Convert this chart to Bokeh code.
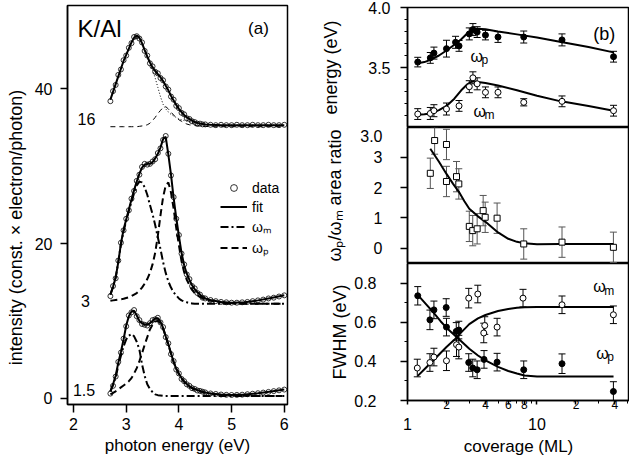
import math
from bokeh.plotting import figure
from bokeh.models import (Range1d, FixedTicker, LogAxis, Label, Legend, LegendItem,
                          Whisker, ColumnDataSource, NumeralTickFormatter)
from bokeh.layouts import row, column
from bokeh.embed import file_html
from bokeh.resources import INLINE

FONT = "Liberation Sans"

# ---------------- panel (a): spectra ----------------
e_curve = [2.70, 2.75, 2.80, 2.85, 2.90, 2.95, 3.00, 3.05, 3.10, 3.15, 3.20, 3.25, 3.30, 3.35,
           3.40, 3.45, 3.50, 3.55, 3.60, 3.65, 3.70, 3.75, 3.80, 3.85, 3.90, 3.95, 4.00, 4.05,
           4.10, 4.15, 4.20, 4.25, 4.30, 4.35, 4.40, 4.45, 4.50, 4.60, 4.80, 5.00, 5.25, 5.50,
           5.75, 6.00]
e_data = [2.70, 2.75, 2.80, 2.85, 2.90, 2.95, 3.00, 3.05, 3.10, 3.15, 3.20, 3.25, 3.30, 3.35,
          3.40, 3.45, 3.50, 3.55, 3.60, 3.65, 3.70, 3.75, 3.80, 3.85, 3.90, 3.95, 4.00, 4.05,
          4.10, 4.15, 4.20, 4.25, 4.30, 4.35, 4.40, 4.45, 4.50, 4.6, 4.7, 4.8, 4.9, 5.0, 5.1,
          5.2, 5.3, 5.4, 5.5, 5.6, 5.7, 5.8, 5.9, 6.0]

# 16 ML
data16 = [38.4, 39.7, 40.5, 41.8, 42.5, 43.7, 44.3, 45.3, 45.9, 46.7, 46.8, 46.5, 46.0, 44.9,
          44.3, 43.3, 42.9, 42.2, 42.0, 41.4, 41.1, 40.3, 39.9, 39.0, 38.6, 37.8, 37.5, 36.9,
          36.7, 36.2, 36.1, 35.8, 35.7, 35.5, 35.5, 35.4, 35.4, 35.35, 35.3, 35.35, 35.3, 35.3,
          35.35, 35.3, 35.3, 35.35, 35.3, 35.3, 35.35, 35.3, 35.3, 35.35]
fit16 = [38.6, 39.6, 40.6, 41.6, 42.6, 43.6, 44.4, 45.2, 46.0, 46.6, 46.9, 46.6, 45.9, 45.0,
         44.2, 43.4, 42.8, 42.3, 41.9, 41.5, 41.0, 40.4, 39.8, 39.1, 38.5, 37.9, 37.4, 37.0,
         36.6, 36.3, 36.1, 35.9, 35.7, 35.6, 35.5, 35.45, 35.4, 35.35, 35.3, 35.3, 35.3, 35.3,
         35.3, 35.3]
om16 = [38.6, 39.6, 40.6, 41.6, 42.6, 43.6, 44.4, 45.2, 46.0, 46.6, 46.9, 46.6, 45.9, 45.0,
        44.0, 43.3, 42.5, 41.4, 40.2, 39.0, 38.0, 37.4, 37.0, 36.7, 36.5, 36.3, 36.1, 36.0,
        35.9, 35.8, 35.7, 35.65, 35.6, 35.55, 35.5, 35.45, 35.4, 35.35, 35.3, 35.3, 35.3, 35.3,
        35.3, 35.3]
op16 = [35.1, 35.1, 35.1, 35.1, 35.1, 35.1, 35.1, 35.1, 35.1, 35.1, 35.1, 35.15, 35.2, 35.25,
        35.35, 35.55, 35.9, 36.3, 36.8, 37.2, 37.6, 37.7, 37.4, 37.0, 36.6, 36.3, 36.0, 35.8,
        35.6, 35.45, 35.35, 35.3, 35.25, 35.2, 35.2, 35.15, 35.15, 35.1, 35.1, 35.1, 35.1, 35.1,
        35.1, 35.1]

# 3 ML
data3 = [13.2, 14.5, 15.5, 17.8, 20.1, 21.7, 23.2, 24.3, 25.8, 26.8, 28.1, 28.9, 29.9, 30.3,
         30.2, 30.3, 30.6, 30.9, 31.7, 32.3, 33.4, 33.9, 31.6, 28.8, 26.0, 23.2, 21.1, 18.7,
         17.3, 16.0, 15.4, 14.5, 14.2, 13.6, 13.4, 13.0, 12.9, 12.7, 12.55, 12.45, 12.4, 12.35,
         12.35, 12.4, 12.45, 12.55, 12.65, 12.75, 12.9, 13.0, 13.15, 13.3]
fit3 = [13.4, 14.4, 15.6, 17.6, 20.0, 21.8, 23.1, 24.4, 25.7, 26.9, 28.0, 29.0, 29.8, 30.2,
        30.3, 30.3, 30.5, 31.0, 31.6, 32.4, 33.5, 33.8, 31.5, 28.9, 25.9, 23.3, 21.0, 18.8,
        17.2, 16.1, 15.3, 14.6, 14.1, 13.7, 13.4, 13.1, 12.9, 12.7, 12.45, 12.35, 12.4, 12.65,
        12.95, 13.3]
om3 = [13.4, 14.4, 15.6, 17.6, 19.9, 21.6, 22.9, 24.2, 25.4, 26.5, 27.5, 28.0, 27.9, 27.3,
       26.3, 25.0, 23.8, 22.4, 20.8, 19.3, 17.6, 16.2, 15.1, 14.3, 13.7, 13.3, 12.9, 12.65,
       12.5, 12.4, 12.3, 12.25, 12.2, 12.2, 12.2, 12.2, 12.2, 12.2, 12.2, 12.2, 12.2, 12.2,
       12.2, 12.2]
op3 = [12.6, 12.65, 12.7, 12.75, 12.8, 12.85, 12.95, 13.05, 13.2, 13.4, 13.6, 13.9, 14.3, 14.8,
       15.4, 16.2, 17.3, 18.8, 21.0, 23.6, 26.0, 27.5, 27.9, 26.6, 24.5, 22.0, 19.8, 17.7,
       16.3, 15.3, 14.6, 14.0, 13.6, 13.3, 13.1, 12.9, 12.75, 12.6, 12.4, 12.3, 12.25, 12.2,
       12.2, 12.2]

# 1.5 ML
data15 = [0.6, 1.6, 2.8, 4.7, 5.9, 7.7, 9.3, 10.7, 11.1, 11.4, 10.6, 10.1, 9.6, 9.5,
          9.4, 9.7, 10.1, 10.2, 10.4, 9.8, 9.2, 7.9, 7.1, 5.7, 4.8, 3.7, 3.2, 2.5,
          2.2, 1.8, 1.6, 1.3, 1.2, 1.0, 0.95, 0.85, 0.75, 0.62, 0.55, 0.48, 0.44, 0.42,
          0.43, 0.46, 0.52, 0.58, 0.65, 0.73, 0.82, 0.92, 1.02, 1.12]
fit15 = [0.9, 1.8, 2.9, 4.6, 6.0, 7.6, 9.4, 10.6, 11.2, 11.3, 10.7, 10.0, 9.7, 9.5,
         9.5, 9.7, 10.0, 10.3, 10.35, 9.9, 9.1, 8.0, 7.0, 5.8, 4.7, 3.8, 3.2, 2.6,
         2.2, 1.85, 1.55, 1.35, 1.2, 1.05, 0.95, 0.85, 0.75, 0.62, 0.48, 0.42, 0.48, 0.65,
         0.88, 1.12]
om15 = [0.9, 1.7, 2.7, 4.2, 5.5, 6.7, 7.6, 8.1, 8.3, 8.0, 7.3, 6.3, 4.4, 2.9,
        1.8, 1.2, 0.8, 0.5, 0.4, 0.35, 0.3, 0.3, 0.3, 0.3, 0.3, 0.3, 0.3, 0.3,
        0.3, 0.3, 0.3, 0.3, 0.3, 0.3, 0.3, 0.3, 0.3, 0.3, 0.3, 0.3, 0.3, 0.3,
        0.3, 0.3]
op15 = [0.5, 0.7, 0.9, 1.15, 1.4, 1.65, 1.9, 2.2, 2.6, 3.2, 3.9, 4.8, 5.8, 6.9,
        7.9, 8.9, 9.5, 9.9, 10.0, 9.7, 9.0, 8.0, 6.9, 5.8, 4.7, 3.8, 3.1, 2.55,
        2.1, 1.8, 1.5, 1.3, 1.1, 1.0, 0.9, 0.8, 0.72, 0.6, 0.45, 0.38, 0.33, 0.3,
        0.3, 0.3]

x_ticks_a = [2, 3, 4, 5, 6]
y_ticks_a = [0, 20, 40]

# ---------------- panel (b) ----------------
cov_ep = [1.2, 1.5, 1.6, 2.0, 2.35, 2.5, 3.0, 3.2, 3.45, 4.0, 5.0, 7.9, 15.6, 39]
en_p = [3.545, 3.58, 3.62, 3.657, 3.71, 3.68, 3.78, 3.816, 3.795, 3.77, 3.754, 3.754, 3.73, 3.59]
en_p_err = [0.04, 0.045, 0.05, 0.07, 0.05, 0.045, 0.05, 0.05, 0.045, 0.04, 0.045, 0.05, 0.05, 0.045]
cov_em = [1.2, 1.5, 1.6, 2.0, 2.5, 3.0, 3.2, 3.45, 4.0, 5.0, 7.9, 15.6, 39]
en_m = [3.112, 3.117, 3.14, 3.154, 3.18, 3.34, 3.414, 3.364, 3.293, 3.293, 3.21, 3.218, 3.14]
en_m_err = [0.045, 0.05, 0.05, 0.05, 0.045, 0.05, 0.05, 0.05, 0.045, 0.045, 0.03, 0.045, 0.045]
cov_efit = [1.2, 1.35, 1.5, 1.75, 2.0, 2.3, 2.6, 2.9, 3.2, 3.5, 4.0, 5.0, 7.0, 10, 15, 25, 39]
en_p_fit = [3.536, 3.545, 3.564, 3.60, 3.642, 3.69, 3.735, 3.785, 3.815, 3.822, 3.818, 3.80,
            3.776, 3.75, 3.715, 3.67, 3.626]
en_m_fit = [3.106, 3.110, 3.117, 3.145, 3.18, 3.24, 3.31, 3.36, 3.388, 3.38, 3.37, 3.35,
            3.31, 3.265, 3.22, 3.18, 3.14]

cov_r = [1.5, 1.62, 2.0, 2.0, 2.39, 2.49, 3.0, 3.19, 3.45, 3.84, 3.98, 4.92, 7.9, 15.6, 38.9]
ratio = [2.47, 3.55, 3.42, 2.2, 2.36, 2.12, 0.72, 0.58, 0.64, 1.24, 1.02, 0.99, 0.14, 0.2, 0.03]
ratio_err = [0.5, 0.45, 0.5, 0.5, 0.5, 0.5, 0.5, 0.5, 0.5, 0.5, 0.5, 0.5, 0.5, 0.5, 0.5]
cov_rfit = [1.5, 1.75, 2.0, 2.25, 2.5, 2.75, 3.0, 3.5, 4.0, 5.0, 6.0, 7.0, 8.0, 10, 15, 25, 39]
ratio_fit = [3.28, 2.85, 2.45, 2.12, 1.85, 1.55, 1.3, 1.05, 0.87, 0.52, 0.31, 0.21, 0.16,
             0.13, 0.14, 0.14, 0.14]

cov_fp = [1.2, 1.49, 1.6, 1.99, 2.0, 2.38, 2.49, 2.97, 3.19, 3.45, 3.9, 4.92, 7.9, 15.6, 38.9]
fw_p = [0.735, 0.612, 0.663, 0.675, 0.575, 0.553, 0.56, 0.394, 0.366, 0.357, 0.41, 0.396,
        0.357, 0.388, 0.246]
fw_p_err = [0.047, 0.05, 0.045, 0.045, 0.045, 0.045, 0.045, 0.045, 0.045, 0.045, 0.045, 0.045,
            0.045, 0.05, 0.05]
cov_fm = [1.19, 1.49, 1.6, 2.0, 2.39, 2.49, 2.97, 3.49, 3.88, 3.95, 4.92, 7.8, 15.6, 38.9]
fw_m = [0.366, 0.394, 0.422, 0.403, 0.485, 0.473, 0.723, 0.744, 0.545, 0.583, 0.575, 0.723,
        0.689, 0.638]
fw_m_err = [0.045, 0.045, 0.045, 0.05, 0.06, 0.06, 0.05, 0.045, 0.05, 0.045, 0.045, 0.045,
            0.045, 0.045]
cov_ffit = [1.2, 1.4, 1.6, 1.8, 2.0, 2.3, 2.6, 3.0, 3.5, 4.0, 5.0, 6.0, 7.0, 8.0, 10, 15, 25, 39]
fw_p_fit = [0.74, 0.69, 0.647, 0.605, 0.572, 0.535, 0.503, 0.464, 0.43, 0.405, 0.372, 0.351,
            0.338, 0.328, 0.323, 0.322, 0.322, 0.322]
fw_m_fit = [0.326, 0.37, 0.408, 0.443, 0.473, 0.51, 0.548, 0.59, 0.62, 0.637, 0.657, 0.668,
            0.674, 0.677, 0.678, 0.678, 0.678, 0.678]

cov_ticks_small = [1, 2, 4, 6, 8, 10, 20, 40]
cov_minor = [3, 5, 7, 9, 30, 50]
cov_ticks_big = [1, 10]
ratio_ticks = [0, 1, 2, 3]


def base_style(p):
    p.grid.visible = False
    p.outline_line_color = "black"
    p.outline_line_width = 1.5
    p.background_fill_color = "white"
    p.border_fill_color = "white"


def style_axis(ax, size="16px"):
    ax.major_label_text_font = FONT
    ax.major_label_text_font_size = size
    ax.major_label_text_color = "black"
    ax.axis_label_text_font = FONT
    ax.axis_label_text_font_size = "18px"
    ax.axis_label_text_font_style = "normal"
    ax.axis_label_text_color = "black"
    ax.axis_line_color = "black"
    ax.axis_line_width = 1.5
    ax.major_tick_line_color = "black"
    ax.major_tick_line_width = 1.5
    ax.minor_tick_line_color = "black"
    ax.minor_tick_line_width = 1
    ax.major_tick_in = 0
    ax.minor_tick_in = 0


def label(p, x, y, text, size, align="left", baseline="middle", angle=0.0, xo=0, yo=0):
    p.add_layout(Label(x=x, y=y, text=text, text_font=FONT,
                       text_font_size=size, text_align=align, text_baseline=baseline,
                       angle=angle, x_offset=xo, y_offset=yo, text_color="black"))


def omega(p, x, y, sub, size="16px", subsize="12px", dx=11, dy=-4):
    label(p, x, y, "ω", size, baseline="alphabetic")
    label(p, x, y, sub, subsize, baseline="alphabetic", xo=dx, yo=dy)


def whisk(p, xs, ys, errs, color="black"):
    src = ColumnDataSource(dict(x=xs, lo=[v - e for v, e in zip(ys, errs)],
                                hi=[v + e for v, e in zip(ys, errs)]))
    w = Whisker(source=src, base="x", lower="lo", upper="hi", line_color=color, line_width=1)
    w.upper_head.size = 7
    w.lower_head.size = 7
    w.upper_head.line_color = color
    w.lower_head.line_color = color
    p.add_layout(w)


H = 460

# ---------------- figure (a) ----------------
pa = figure(width=307, height=H, x_range=Range1d(1.886, 6.061), y_range=Range1d(-0.81, 50.77),
            output_backend="svg", toolbar_location=None,
            min_border_left=67, min_border_right=20, min_border_top=5, min_border_bottom=56)
base_style(pa)
pa.xaxis.ticker = FixedTicker(ticks=x_ticks_a, minor_ticks=[])
pa.yaxis.ticker = FixedTicker(ticks=y_ticks_a, minor_ticks=[])
for ax in pa.xaxis + pa.yaxis:
    style_axis(ax)
pa.xaxis.axis_label = "photon energy (eV)"
pa.xaxis.axis_label_text_font_size = "17px"
pa.xaxis.major_tick_out = 8
pa.xaxis.major_label_standoff = 5
pa.xaxis.axis_label_standoff = 3
pa.yaxis.major_tick_out = 7
pa.yaxis.major_label_standoff = 8
# trailing no-break spaces shift the centred title towards the bottom, as in the original
pa.yaxis.axis_label = "intensity (const. × electron/photon)" + "\u00a0" * 9
pa.yaxis.axis_label_standoff = 6

DASHDOT = "8 3 2 3"
DASH = "7 4"

# 16 ML (thin components)
pa.line(e_curve, om16, line_color="black", line_width=1, line_dash="1 2")
pa.line(e_curve, op16, line_color="black", line_width=1, line_dash="5 4")
pa.line(e_curve, fit16, line_color="black", line_width=2)
r_data = pa.scatter(e_data, data16, marker="circle", size=5, fill_color=None,
                    line_color="black", line_width=0.8)
# 3 ML
r_om = pa.line(e_curve, om3, line_color="black", line_width=2, line_dash=DASHDOT)
r_op = pa.line(e_curve, op3, line_color="black", line_width=2, line_dash=DASH)
r_fit = pa.line(e_curve, fit3, line_color="black", line_width=2)
pa.scatter(e_data, data3, marker="circle", size=5, fill_color=None,
           line_color="black", line_width=0.8)
# 1.5 ML
pa.line(e_curve, om15, line_color="black", line_width=2, line_dash=DASHDOT)
pa.line(e_curve, op15, line_color="black", line_width=2, line_dash=DASH)
pa.line(e_curve, fit15, line_color="black", line_width=2)
pa.scatter(e_data, data15, marker="circle", size=5, fill_color=None,
           line_color="black", line_width=0.8)

leg = Legend(items=[LegendItem(label="data", renderers=[r_data]),
                    LegendItem(label="fit", renderers=[r_fit]),
                    LegendItem(label="ωₘ", renderers=[r_om]),
                    LegendItem(label="ωₚ", renderers=[r_op])],
             location=(153, 147), padding=0, margin=0, spacing=2,
             glyph_width=27, glyph_height=17, label_height=17, label_standoff=5,
             label_text_font=FONT, label_text_font_size="14px", label_text_color="black",
             border_line_color=None, background_fill_alpha=0)
pa.add_layout(leg)

label(pa, 2.076, 47.8, "K/Al", "24px")
label(pa, 5.51, 47.8, "(a)", "17px", align="center")
label(pa, 2.247, 36.16, "16", "16px", align="center")
label(pa, 2.228, 12.63, "3", "16px", align="center")
label(pa, 2.2, 1.0, "1.5", "16px", align="center")

# ---------------- figures (b) ----------------
xr = Range1d(1, 51.8)
common = dict(width=322, x_range=xr, x_axis_type="log", output_backend="svg",
              toolbar_location=None, min_border_left=100, min_border_right=0)

# energy
pt = figure(height=127, y_range=Range1d(3.0, 4.0), x_axis_location=None,
            min_border_top=7, min_border_bottom=0, **common)
base_style(pt)
style_axis(pt.yaxis[0])
pt.yaxis.ticker = FixedTicker(ticks=[3.5, 4.0], minor_ticks=[3.1, 3.2, 3.3, 3.4, 3.6, 3.7, 3.8, 3.9])
pt.yaxis.formatter = NumeralTickFormatter(format="0.0")
pt.yaxis.major_tick_out = 7
pt.yaxis.minor_tick_out = 3
pt.yaxis.major_label_standoff = 10
pt.yaxis.axis_label = "energy (eV)"
pt.yaxis.axis_label_standoff = 24
whisk(pt, cov_ep, en_p, en_p_err)
whisk(pt, cov_em, en_m, en_m_err)
pt.line(cov_efit, en_p_fit, line_color="black", line_width=2)
pt.line(cov_efit, en_m_fit, line_color="black", line_width=2)
pt.scatter(cov_ep, en_p, marker="circle", size=6, fill_color="black", line_color="black")
pt.scatter(cov_em, en_m, marker="circle", size=6, fill_color="white", line_color="black",
           line_width=1)
omega(pt, 3.06, 3.595, "p")
omega(pt, 3.23, 3.134, "m")
label(pt, 33.1, 3.776, "(b)", "18px", align="center")

# ratio (its axis also carries the "3.0" label of the energy panel just above it)
pm = figure(height=136, y_range=Range1d(-0.504, 3.98), x_axis_location=None,
            min_border_top=0, min_border_bottom=0, **common)
base_style(pm)
style_axis(pm.yaxis[0])
pm.yaxis.ticker = FixedTicker(ticks=ratio_ticks + [3.7], minor_ticks=ratio_ticks)
pm.yaxis.major_label_overrides = {0: "0", 1: "1", 2: "2", 3: "3", 3.7: "3.0"}
pm.yaxis.major_tick_line_color = None
pm.yaxis.major_tick_out = 7
pm.yaxis.minor_tick_out = 7
pm.yaxis.minor_tick_line_width = 1.5
pm.yaxis.major_label_standoff = 18
pm.yaxis.axis_label = "ωₚ/ωₘ area ratio"
pm.yaxis.axis_label_standoff = 12
whisk(pm, cov_r, ratio, ratio_err, color="#555555")
pm.line(cov_rfit, ratio_fit, line_color="black", line_width=2)
pm.scatter(cov_r, ratio, marker="square", size=6, fill_color="white", line_color="black",
           line_width=1)

# FWHM
pb = figure(height=H - 127 - 136, y_range=Range1d(0.2, 0.9), x_axis_location="below",
            min_border_top=0, min_border_bottom=60, **common)
base_style(pb)
style_axis(pb.yaxis[0])
pb.yaxis.ticker = FixedTicker(ticks=[0.2, 0.4, 0.6, 0.8], minor_ticks=[0.3, 0.5, 0.7])
pb.yaxis.formatter = NumeralTickFormatter(format="0.0")
pb.yaxis.major_tick_out = 7
pb.yaxis.minor_tick_out = 3
pb.yaxis.major_label_standoff = 24
pb.yaxis.axis_label = "FWHM (eV)"
pb.yaxis.axis_label_standoff = 1
ax1 = pb.xaxis[0]
style_axis(ax1, "12px")
ax1.ticker = FixedTicker(ticks=cov_ticks_small, minor_ticks=cov_minor)
ax1.major_label_overrides = {1: "", 2: "2", 4: "4", 6: "6", 8: "8", 10: "", 20: "2", 40: "4"}
ax1.major_tick_out = 4
ax1.minor_tick_out = 3
ax1.major_label_standoff = -5
ax2 = LogAxis(ticker=FixedTicker(ticks=cov_ticks_big, minor_ticks=[]),
              axis_label="coverage (ML)")
style_axis(ax2, "16px")
ax2.axis_label_text_font_size = "17px"
ax2.axis_line_color = None
ax2.major_tick_line_color = None
ax2.minor_tick_line_color = None
ax2.major_tick_out = 0
ax2.major_label_standoff = 6
ax2.axis_label_standoff = 4
ax2.major_label_overrides = {1: "1", 10: "10"}
pb.add_layout(ax2, "below")
whisk(pb, cov_fp, fw_p, fw_p_err)
whisk(pb, cov_fm, fw_m, fw_m_err)
pb.line(cov_ffit, fw_p_fit, line_color="black", line_width=2)
pb.line(cov_ffit, fw_m_fit, line_color="black", line_width=2)
pb.scatter(cov_fp, fw_p, marker="circle", size=6, fill_color="black", line_color="black")
pb.scatter(cov_fm, fw_m, marker="circle", size=6, fill_color="white", line_color="black",
           line_width=1)
omega(pb, 27.2, 0.78, "m")
omega(pb, 28.7, 0.442, "p")

layout = row(pa, column(pt, pm, pb, spacing=0), spacing=0)
open("out.html", "w").write(file_html(layout, INLINE))
